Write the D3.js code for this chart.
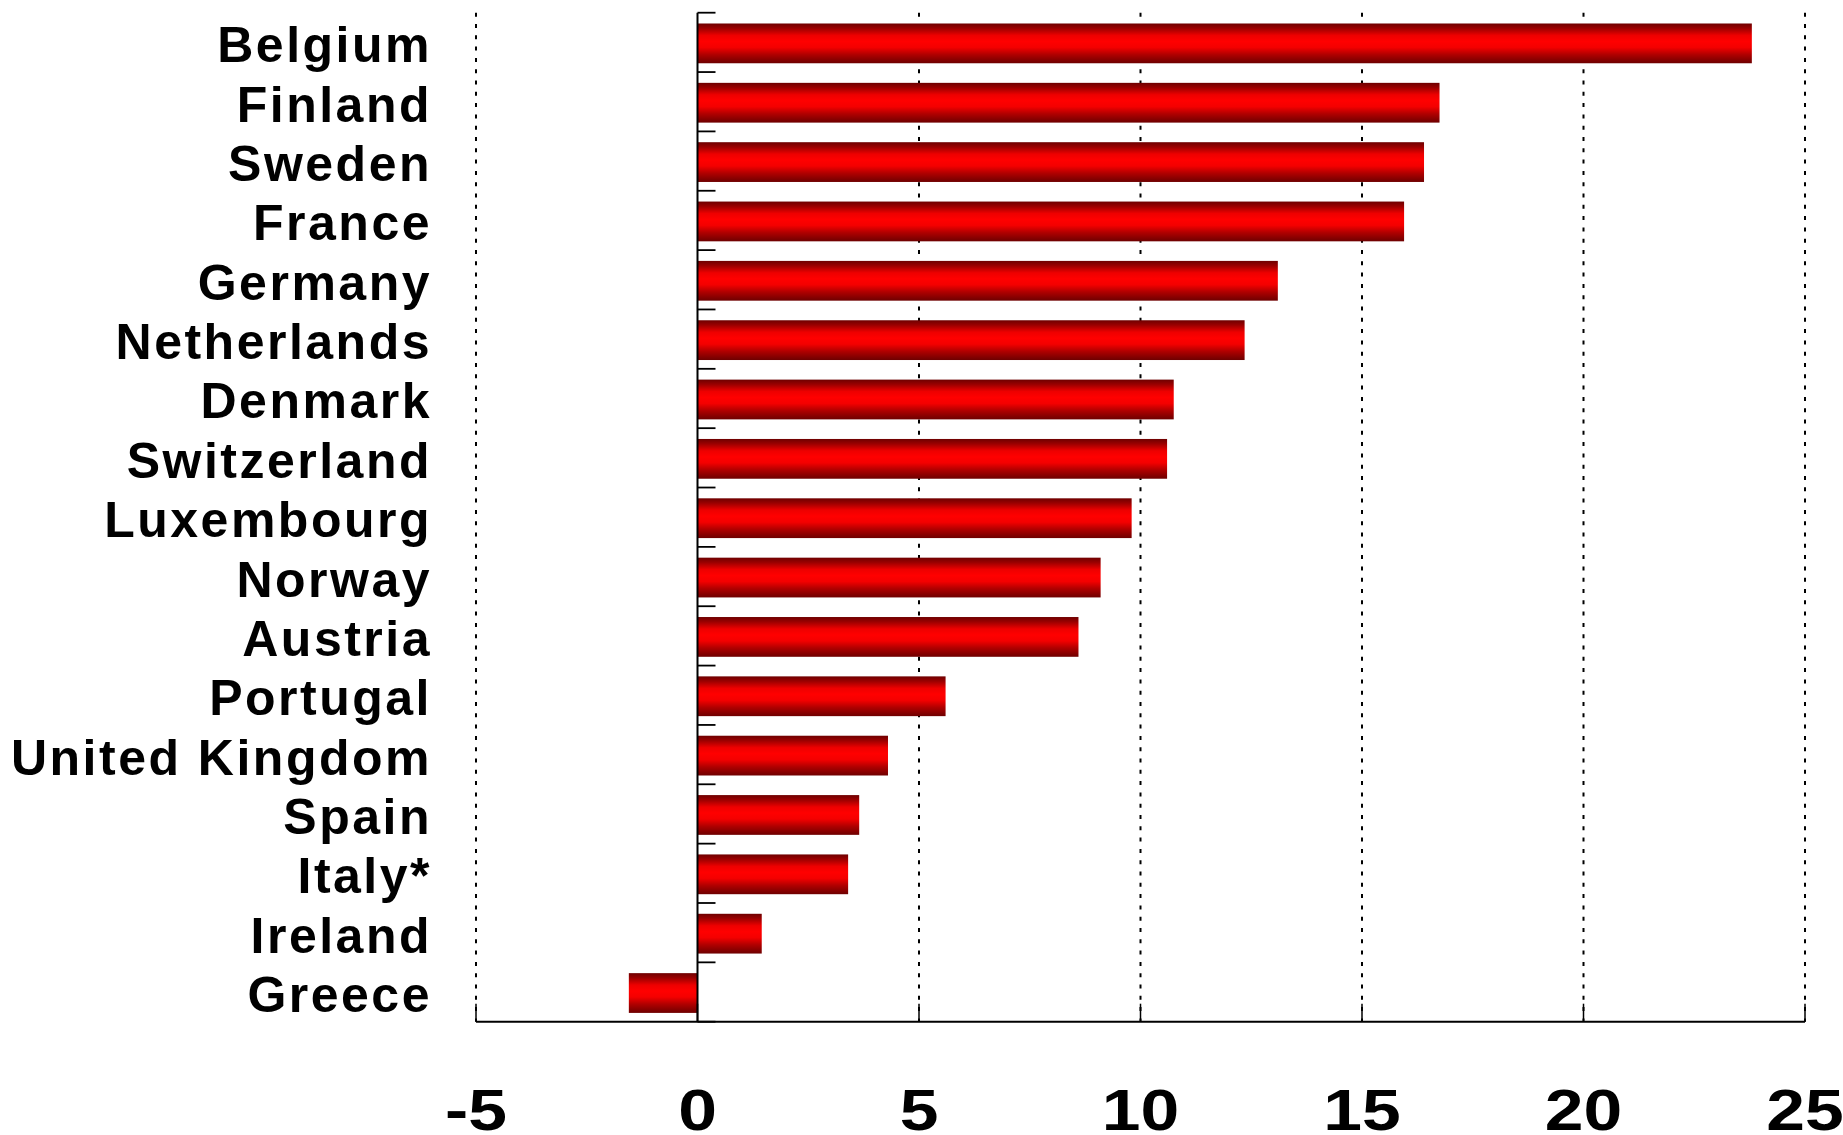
<!DOCTYPE html>
<html>
<head>
<meta charset="utf-8">
<script src="https://cdn.jsdelivr.net/npm/d3@7"></script>
<style>
  html, body { margin: 0; padding: 0; background: #ffffff; }
  svg { display: block; }
</style>
</head>
<body>
<svg id="chart" width="1843" height="1135"></svg>
<script>
// Country names, top to bottom
const countries = [
  "Belgium", "Finland", "Sweden", "France", "Germany", "Netherlands",
  "Denmark", "Switzerland", "Luxembourg", "Norway", "Austria", "Portugal",
  "United Kingdom", "Spain", "Italy*", "Ireland", "Greece"
];

// Value per country
const values = [
  23.8, 16.75, 16.4, 15.95, 13.1, 12.35,
  10.75, 10.6, 9.8, 9.1, 8.6, 5.6,
  4.3, 3.65, 3.4, 1.45, -1.55
];

// Axis ticks along the value axis
const xTicks = [-5, 0, 5, 10, 15, 20, 25];
const gridTicks = [-5, 5, 10, 15, 20, 25];

const data = countries.map((c, i) => ({ country: c, value: values[i] }));

const svg = d3.select("#chart");

const x = d3.scaleLinear().domain([-5, 25]).range([476, 1805]);
const y = d3.scaleBand()
  .domain(countries)
  .range([12.7, 1021.7])
  .paddingInner(0.33)
  .paddingOuter(0.165);

// Vertical shading for the bars: dark edges, bright centre
const defs = svg.append("defs");
const grad = defs.append("linearGradient")
  .attr("id", "barFill")
  .attr("x1", 0).attr("y1", 0).attr("x2", 0).attr("y2", 1);
[
  [0, "#6e0000"], [0.12, "#9a0000"], [0.3, "#ee0000"], [0.45, "#ff0000"],
  [0.6, "#f40000"], [0.78, "#b00000"], [1, "#6e0000"]
].forEach(([o, c]) => grad.append("stop").attr("offset", o).attr("stop-color", c));

// Dotted gridlines
svg.append("g")
  .selectAll("line")
  .data(gridTicks)
  .join("line")
  .attr("x1", d => x(d)).attr("x2", d => x(d))
  .attr("y1", 12.7).attr("y2", 1021.7)
  .attr("stroke", "#000")
  .attr("stroke-width", 2)
  .attr("stroke-dasharray", "4 7.3");

// Bars
svg.append("g")
  .selectAll("rect")
  .data(data)
  .join("rect")
  .attr("x", d => x(Math.min(0, d.value)))
  .attr("width", d => Math.abs(x(d.value) - x(0)))
  .attr("y", d => y(d.country) + 1)
  .attr("height", y.bandwidth())
  .attr("fill", "url(#barFill)");

// Bottom axis: line, short inward ticks, large labels
const bottom = svg.append("g").attr("transform", "translate(0,1021.7)");
bottom.append("line")
  .attr("x1", x(-5)).attr("x2", x(25))
  .attr("y1", 0).attr("y2", 0)
  .attr("stroke", "#000").attr("stroke-width", 2);
bottom.selectAll("line.tick")
  .data(xTicks)
  .join("line")
  .attr("class", "tick")
  .attr("x1", d => x(d)).attr("x2", d => x(d))
  .attr("y1", 0).attr("y2", -18)
  .attr("stroke", "#000").attr("stroke-width", 1.5);
bottom.selectAll("text")
  .data(xTicks)
  .join("text")
  .attr("transform", d => `translate(${x(d)},108) scale(1.2,1)`)
  .attr("text-anchor", "middle")
  .attr("font-family", "'Liberation Sans', Arial, sans-serif")
  .attr("font-weight", "bold")
  .attr("font-size", 58)
  .attr("fill", "#000")
  .text(d => String(d));

// Category axis at zero: line plus ticks between bars
const left = svg.append("g");
left.append("line")
  .attr("x1", x(0)).attr("x2", x(0))
  .attr("y1", 12.7).attr("y2", 1021.7)
  .attr("stroke", "#000").attr("stroke-width", 2);
const step = y.step();
const bounds = d3.range(countries.length + 1).map(i => 12.7 + i * step);
left.selectAll("line.tick")
  .data(bounds)
  .join("line")
  .attr("class", "tick")
  .attr("x1", x(0)).attr("x2", x(0) + 18)
  .attr("y1", d => d).attr("y2", d => d)
  .attr("stroke", "#000").attr("stroke-width", 1.8);

// Country labels
svg.append("g")
  .selectAll("text")
  .data(countries)
  .join("text")
  .attr("x", 432)
  .attr("y", d => y(d) + y.bandwidth() / 2 + 20)
  .attr("text-anchor", "end")
  .attr("font-family", "'Liberation Sans', Arial, sans-serif")
  .attr("font-weight", "bold")
  .attr("font-size", 50)
  .attr("letter-spacing", "2.5px")
  .attr("fill", "#000")
  .text(d => d);
</script>
</body>
</html>
